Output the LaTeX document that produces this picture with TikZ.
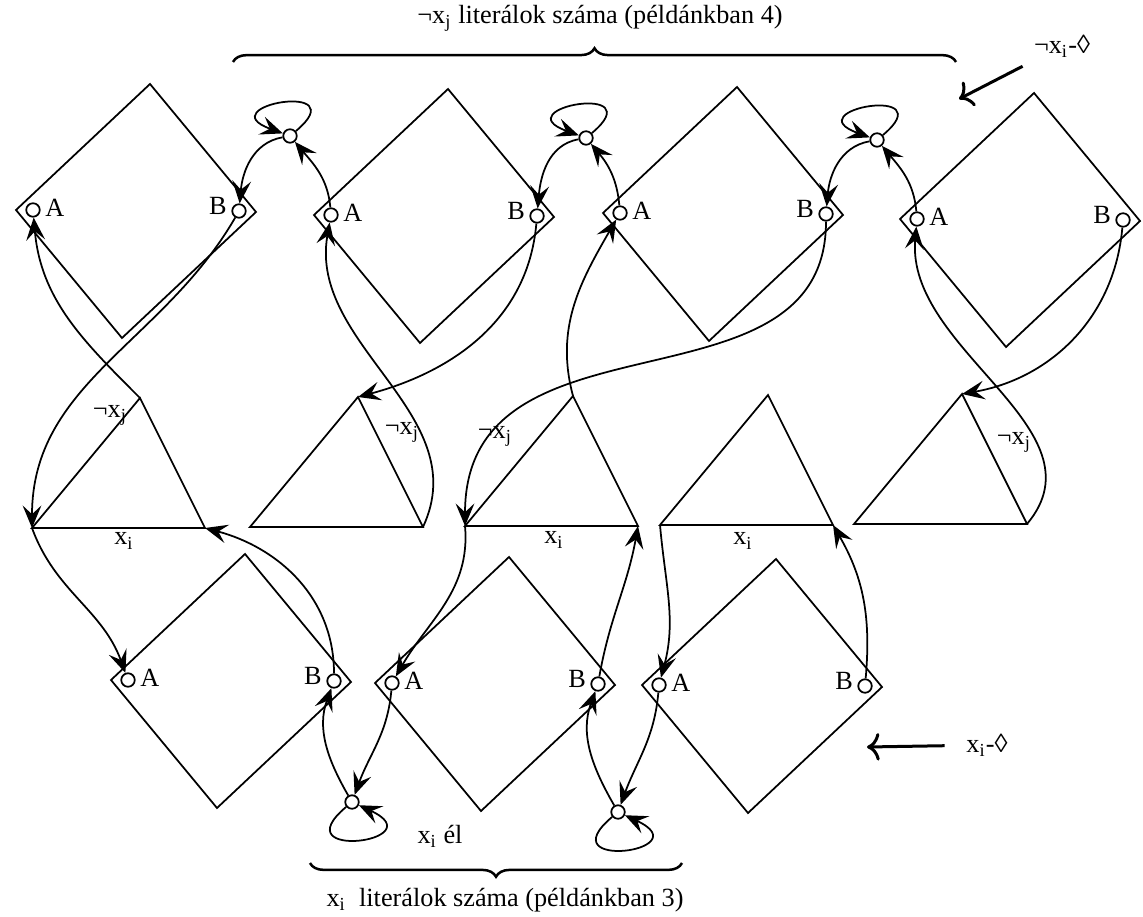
\documentclass[tikz,border=0pt]{standalone}
\usepackage{fontspec}
\setmainfont{Liberation Serif}
\usetikzlibrary{arrows.meta,decorations.pathreplacing}
\tikzset{
  port/.style = {draw, circle, fill=white, minimum size=5.4pt, inner sep=0pt},
  lab/.style = {inner sep=1.5pt},
  conn/.style = {-{Stealth[length=9pt,width=7.5pt,inset=3.5pt]}},
  bigarrow/.style = {-{Computer Modern Rightarrow[length=5pt,width=11pt]}, line width=1.2pt},
  curly/.style = {decorate, decoration={brace, amplitude=5.5pt}, line width=1pt},
  gadget/.pic = {
    \draw (0,0) -- ++(134,-126) -- ++(106,128) -- ++(-134,126) -- cycle;
    \node[port, label={[lab,yshift=.8pt]0:A}] (-a) at (17,0) {};
    \node[port, label={[lab,yshift=2pt]180:B}] (-b) at (223,1) {};
  },
  tri/.pic = {
    \draw (0,0) coordinate (-l) -- (108,-130) coordinate (-t) -- (173,0) coordinate (-r) -- cycle;
  }
}
\begin{document}
\begin{tikzpicture}[x=.4pt, y=-.4pt, line width=.7pt, font=\fontsize{10.5}{12.6}\selectfont]
  \useasboundingbox (0,0) rectangle (1143,917);
  % gadgets
  \foreach \n/\x/\y in {n1/16/210, n2/314/215, n3/603/213, n4/900/219, p1/111/680, p2/375/683, p3/642/685}{
    \pic (\n) at (\x,\y) {gadget};
  }
  % triangles
  \foreach \n/\x/\y in {t1/32/528, t2/250/527, t3/465/526, t4/660/525, t5/854/524}{
    \pic (\n) at (\x,\y) {tri};
  }
  \foreach \n/\x/\y in {ln1/290/136, ln2/586/138, ln3/877/140, lp1/352/802, lp2/618/812}{
    \node[port] (\n) at (\x,\y) {};
  }
  \node (nl1) at (110,415) {¬x\textsubscript{j}};
  \node (nl2) at (402,432) {¬x\textsubscript{j}};
  \node (nl3) at (495,436) {¬x\textsubscript{j}};
  \node (nl5) at (1014,442) {¬x\textsubscript{j}};
  \node (pl1) at (124,541) {x\textsubscript{i}};
  \node (pl3) at (554,540) {x\textsubscript{i}};
  \node (pl4) at (743,541) {x\textsubscript{i}};

  % loops
  \foreach \lo/\lb/\la in {ln1/n1/n2, ln2/n2/n3, ln3/n3/n4}{
    \draw[conn] (\lo) to[out=190,in=85] (\lb-b);
    \draw[conn] (\la-a) to[out=95,in=-50] (\lo);
    \draw[conn] (\lo) to[out=40,in=160,min distance=32pt] (\lo);
  }
  \foreach \lo/\lb/\la in {lp1/p1/p2, lp2/p2/p3}{
    \draw[conn] (\lo) to[out=120,in=-110] (\lb-b);
    \draw[conn] (\la-a) to[out=-95,in=70] (\lo);
    \draw[conn] (\lo) to[out=220,in=-25,min distance=34pt] (\lo);
  }
  % triangles to gadgets
  \draw[conn] (n1-b) to[out=-120,in=90] (t1-l);
  \draw[conn] (t1-t) to[out=135,in=-85] (n1-a);
  \draw[conn] (t1-l) to[out=-70,in=110] (p1-a);
  \draw[conn] (p1-b) to[out=90,in=-15] (t1-r);
  \draw[conn] (n2-b) to[out=-95,in=15] (t2-t);
  \draw[conn] (t2-r) to[out=65,in=-100] (n2-a);
  \draw[conn] (t3-t) to[out=105,in=-120] (n3-a);
  \draw[conn] (n3-b) to[out=-90,in=90,out looseness=1.08,in looseness=1.22] (t3-l);
  \draw[conn] (t3-l) to[out=-85,in=60] (p2-a);
  \draw[conn] (p2-b) to[out=80,in=-100] (t3-r);
  \draw[conn] (t4-l) to[out=-85,in=75] (p3-a);
  \draw[conn] (p3-b) to[out=85,in=-60] (t4-r);
  \draw[conn] (n4-b) to[out=-95,in=10] (t5-t);
  \draw[conn] (t5-r) to[out=50,in=-95] (n4-a);

  % notes
  \node (negnote) at (1062,46) {¬x\textsubscript{i}-◊};
  \node (posnote) at (987,745) {x\textsubscript{i}-◊};
  \coordinate (negtip) at (959,99);
  \coordinate (postip) at (867,747);
  \draw[bigarrow, shorten <=1pt] (negnote) -- (negtip);
  \draw[bigarrow, shorten <=5pt] (posnote) -- (postip);

  % braces
  \coordinate (tb1) at (233,62);
  \coordinate (tb2) at (956,62);
  \draw[curly] (tb1) -- (tb2);
  \coordinate (bb1) at (682,863);
  \coordinate (bb2) at (310,863);
  \draw[curly] (bb1) -- (bb2);
  \node (negtitle) at (600,18) {¬x\textsubscript{j}\ literálok száma (példánkban 4)};
  \node (postitle) at (505,900) {x\textsubscript{i}\ \ literálok száma (példánkban 3)};
  \node (edgelab) at (440,836) {x\textsubscript{i} él};
\end{tikzpicture}
\end{document}
